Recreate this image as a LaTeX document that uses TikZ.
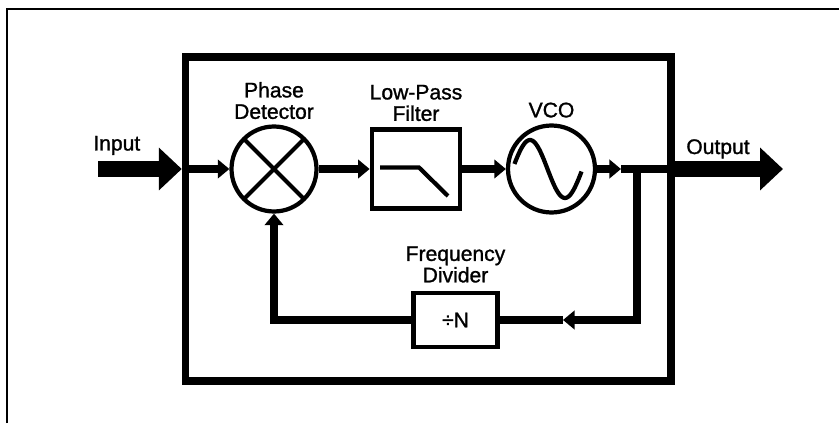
\documentclass[tikz,border=0pt]{standalone}
\usepackage{fontspec}
\setmainfont[FakeBold=1.2]{Liberation Sans}
\usetikzlibrary{arrows.meta,positioning}

\begin{document}
\begin{tikzpicture}[x=0.02cm, y=0.02cm,
        txt/.style={font=\fontsize{12}{12.2}\selectfont},
        block/.style={draw, line width=2.4pt, inner sep=0pt, txt},
        lbl/.style={txt, align=center, inner sep=0pt},
        sig/.style={line width=4.6pt},
        sigarrow/.style={sig, -{Triangle[length=6.6pt, width=10.5pt]}},
        big/.style={line width=9.6pt, -{Triangle[length=13pt, width=23.5pt]}}]
            \useasboundingbox (0,0) rectangle (839,423);

            % Draw the thin frame round the figure
            \draw[line width=1pt] (7,0) -- (7,414) -- (839,414);

            % Draw the loop box
            \node[draw, line width=4.3pt, minimum width=9.71cm, minimum height=6.48cm] (Loop) at (428.25,204) {};

            % Draw the blocks of the loop
            \node[block, circle, minimum size=1.70cm,
                path picture={\draw[line width=2.4pt] (path picture bounding box.north west) -- (path picture bounding box.south east)
                (path picture bounding box.south west) -- (path picture bounding box.north east);}] (Detector) at (274,254) {};
            \node[block, minimum width=1.77cm, minimum height=1.58cm] (Filter) at (416,254) {};
            \draw[line width=2.4pt] ([shift={(-36,1.5)}]Filter.center) -- ++(39,0) -- ++(29,-28.5);
            \node[block, circle, minimum size=1.74cm] (VCO) at (551.5,254) {};
            \draw[line width=2.4pt, shift={(VCO.center)}] plot[domain=10:355, samples=50, smooth] ({-4+(\x-180)*35/180}, {29*sin(\x)});
            \node[block, minimum width=1.68cm, minimum height=1.08cm] (Divider) at (455.5,103) {÷N};

            % Add the labels
            \node[lbl, above=0.10cm of Detector] (Detector-l) {Phase\\Detector};
            \node[lbl, above=0.12cm of Filter] (Filter-l) {Low-Pass\\Filter};
            \node[lbl, above=0.11cm of VCO] (VCO-l) {VCO};
            \node[lbl, above=0.16cm of Divider] (Divider-l) {Frequency\\Divider};
            \node[lbl, anchor=base west] (Input-l) at (93,272.5) {Input};
            \node[lbl, anchor=base west] (Output-l) at (686,269) {Output};

            % Free ends and bends of the signal lines
            \coordinate (Input) at (98,254);
            \coordinate (Output) at (783,254);
            \coordinate (Split) at (637,254);
            \coordinate (VCO-t) at (621,254);
            \coordinate (Back-t) at (563,103);

            % Forward path
            \draw[big] (Input) -- (Loop.west |- Detector);
            \draw[sigarrow] (Loop.west |- Detector) -- (Detector);
            \draw[sigarrow] (Detector) -- (Filter);
            \draw[sigarrow] (Filter) -- (VCO);
            \draw[sigarrow] (VCO) -- (VCO-t);
            \draw[sig] (VCO-t) -- (Loop.east |- Split);
            \draw[big] (Loop.east |- Split) -- (Output);

            % Feedback path
            \draw[sigarrow] (Split) |- (Back-t);
            \draw[sig] (Back-t) -- (Divider);
            \draw[sigarrow] (Divider) -| (Detector);

        \end{tikzpicture}
\end{document}
